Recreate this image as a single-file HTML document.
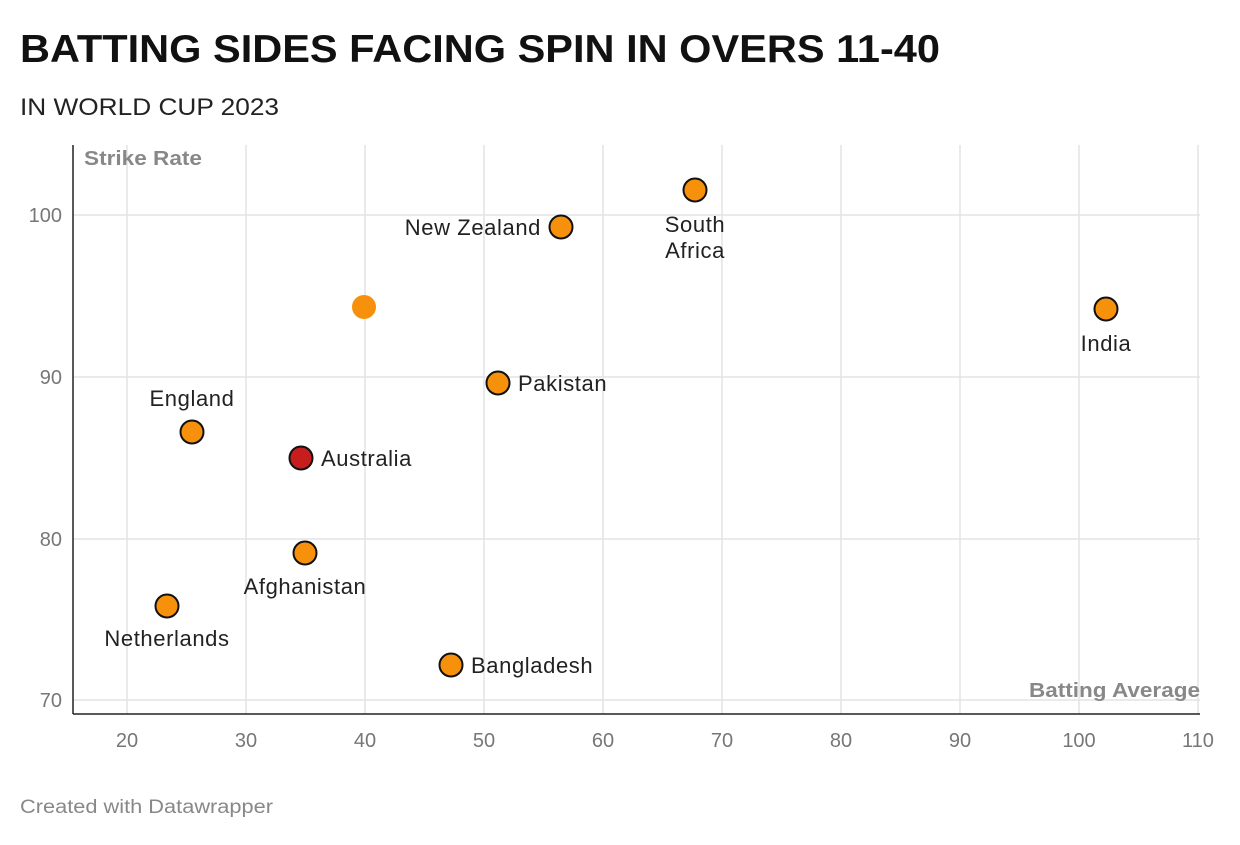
<!DOCTYPE html>
<html><head><meta charset="utf-8"><style>
body{margin:0;background:#fff;width:1240px;height:840px;overflow:hidden;font-family:"Liberation Sans",sans-serif}
</style></head><body>
<svg width="1240" height="840" xmlns="http://www.w3.org/2000/svg" font-family="Liberation Sans, sans-serif">
<text x="20" y="62" font-size="39" font-weight="bold" fill="#111" textLength="920" lengthAdjust="spacingAndGlyphs">BATTING SIDES FACING SPIN IN OVERS 11-40</text>
<text x="20" y="115" font-size="24" fill="#222" textLength="259" lengthAdjust="spacingAndGlyphs">IN WORLD CUP 2023</text>
<g stroke="#e3e3e3" stroke-width="1.5">
<line x1="127" y1="145" x2="127" y2="714"/><line x1="246" y1="145" x2="246" y2="714"/><line x1="365" y1="145" x2="365" y2="714"/><line x1="484" y1="145" x2="484" y2="714"/><line x1="603" y1="145" x2="603" y2="714"/><line x1="722" y1="145" x2="722" y2="714"/><line x1="841" y1="145" x2="841" y2="714"/><line x1="960" y1="145" x2="960" y2="714"/><line x1="1079" y1="145" x2="1079" y2="714"/><line x1="1198" y1="145" x2="1198" y2="714"/>
<line x1="73" y1="215" x2="1200" y2="215"/><line x1="73" y1="377" x2="1200" y2="377"/><line x1="73" y1="539" x2="1200" y2="539"/><line x1="73" y1="700" x2="1200" y2="700"/>
</g>
<line x1="73" y1="145" x2="73" y2="714" stroke="#222" stroke-width="1.5"/>
<line x1="73" y1="714" x2="1200" y2="714" stroke="#222" stroke-width="1.5"/>
<g font-size="20" fill="#777" text-anchor="end">
<text x="62" y="222">100</text><text x="62" y="384">90</text><text x="62" y="546">80</text><text x="62" y="707">70</text>
</g>
<g font-size="20" fill="#777" text-anchor="middle">
<text x="127" y="747">20</text><text x="246" y="747">30</text><text x="365" y="747">40</text><text x="484" y="747">50</text><text x="603" y="747">60</text><text x="722" y="747">70</text><text x="841" y="747">80</text><text x="960" y="747">90</text><text x="1079" y="747">100</text><text x="1198" y="747">110</text>
</g>
<text x="84" y="165" font-size="20" font-weight="bold" fill="#888" textLength="118" lengthAdjust="spacingAndGlyphs">Strike Rate</text>
<text x="1029" y="697" font-size="20" font-weight="bold" fill="#888" textLength="171" lengthAdjust="spacingAndGlyphs">Batting Average</text>
<g stroke="#111" stroke-width="2" fill="#f7900a">
<circle cx="561" cy="227" r="11.5"/><circle cx="695" cy="190" r="11.5"/><circle cx="1106" cy="309" r="11.5"/><circle cx="498" cy="383" r="11.5"/><circle cx="192" cy="432" r="11.5"/><circle cx="305" cy="553" r="11.5"/><circle cx="167" cy="606" r="11.5"/><circle cx="451" cy="665" r="11.5"/>
<circle cx="301" cy="458" r="11.5" fill="#c71e1d"/>
</g>
<circle cx="364" cy="307" r="12" fill="#f7900a"/>
<g font-size="22" fill="#222" letter-spacing="0.6">
<text x="541" y="235" text-anchor="end">New Zealand</text>
<text x="695" y="232" text-anchor="middle">South</text><text x="695" y="258" text-anchor="middle">Africa</text>
<text x="1106" y="351" text-anchor="middle">India</text>
<text x="518" y="391">Pakistan</text>
<text x="192" y="406" text-anchor="middle">England</text>
<text x="321" y="466">Australia</text>
<text x="305" y="594" text-anchor="middle">Afghanistan</text>
<text x="167" y="646" text-anchor="middle">Netherlands</text>
<text x="471" y="673">Bangladesh</text>
</g>
<text x="20" y="813" font-size="19" fill="#888" textLength="253" lengthAdjust="spacingAndGlyphs">Created with Datawrapper</text>
</svg>
</body></html>
